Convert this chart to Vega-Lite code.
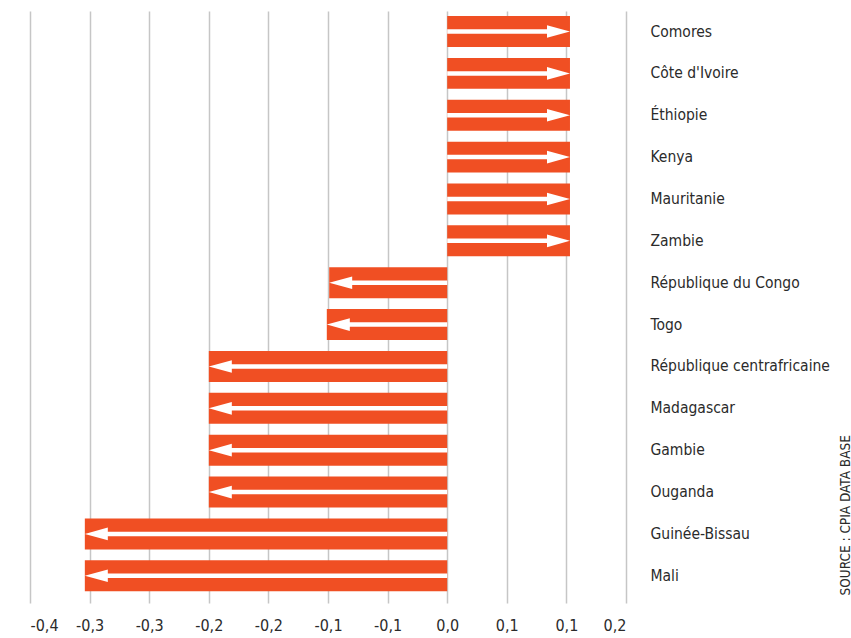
{
  "$schema": "https://vega.github.io/schema/vega-lite/v6.json",
  "width": 596,
  "height": 592,
  "autosize": {"type": "none"},
  "padding": {"left": 30, "top": 11, "right": 225, "bottom": 35},
  "background": "white",
  "config": {
    "view": {"stroke": null},
    "font": "DejaVu Sans Condensed, sans-serif"
  },
  "data": {
    "values": [
      {"pays": "Comores", "v": 0.103},
      {"pays": "Côte d'Ivoire", "v": 0.103},
      {"pays": "Éthiopie", "v": 0.103},
      {"pays": "Kenya", "v": 0.103},
      {"pays": "Mauritanie", "v": 0.103},
      {"pays": "Zambie", "v": 0.103},
      {"pays": "République du Congo", "v": -0.099},
      {"pays": "Togo", "v": -0.101},
      {"pays": "République centrafricaine", "v": -0.2},
      {"pays": "Madagascar", "v": -0.2},
      {"pays": "Gambie", "v": -0.2},
      {"pays": "Ouganda", "v": -0.2},
      {"pays": "Guinée-Bissau", "v": -0.304},
      {"pays": "Mali", "v": -0.304}
    ]
  },
  "encoding": {
    "y": {
      "field": "pays",
      "type": "nominal",
      "sort": null,
      "scale": {"paddingInner": 0.26, "paddingOuter": 0.2, "align": 0.3},
      "axis": {
        "orient": "right",
        "ticks": false,
        "domain": false,
        "labelPadding": 24,
        "labelFontSize": 15.5,
        "labelColor": "#2b2b2b",
        "labelLimit": 400,
        "title": "SOURCE : CPIA DATA BASE",
        "titleFontSize": 13.5,
        "titleFontWeight": "normal",
        "titleColor": "#2b2b2b",
        "titleAngle": 270,
        "titleAlign": "left",
        "titleBaseline": "middle",
        "titleX": 219,
        "titleY": 584
      }
    }
  },
  "layer": [
    {
      "mark": {"type": "bar", "color": "#F04F23"},
      "encoding": {
        "x": {
          "field": "v",
          "type": "quantitative",
          "scale": {"domain": [-0.35, 0.15], "nice": false, "zero": false},
          "axis": {
            "values": [-0.35, -0.3, -0.25, -0.2, -0.15, -0.1, -0.05, 0, 0.05, 0.1, 0.15],
            "title": null,
            "domain": false,
            "ticks": false,
            "tickSize": 0,
            "grid": true,
            "gridColor": "#c6c6c6",
            "gridWidth": 1.5,
            "labelFontSize": 16,
            "labelColor": "#2b2b2b",
            "labelPadding": 27,
            "labelBaseline": "alphabetic",
            "labelExpr": "(datum.value < -0.000001 ? '-' : '') + replace(format(floor(abs(datum.value)*10 + 0.5 + 0.000001)/10, '.1f'), '.', ',')"
          }
        }
      }
    },
    {
      "transform": [{"filter": "datum.v > 0"}],
      "mark": {"type": "rule", "color": "white", "strokeWidth": 4.5, "xOffset": -12},
      "encoding": {
        "x": {"field": "v", "type": "quantitative"},
        "x2": {"datum": 0}
      }
    },
    {
      "transform": [{"filter": "datum.v < 0"}],
      "mark": {"type": "rule", "color": "white", "strokeWidth": 4.5, "xOffset": 12},
      "encoding": {
        "x": {"field": "v", "type": "quantitative"},
        "x2": {"datum": 0}
      }
    },
    {
      "mark": {"type": "point", "filled": true, "color": "white", "opacity": 1, "size": 529, "strokeWidth": 0},
      "encoding": {
        "x": {"field": "v", "type": "quantitative"},
        "shape": {
          "condition": {"test": "datum.v > 0", "value": "M -2 -0.55 L 0 0 L -2 0.55 Z"},
          "value": "M 2 -0.55 L 0 0 L 2 0.55 Z"
        }
      }
    },
    {
      "mark": {"type": "rule", "color": "#3a3a3a", "strokeWidth": 2},
      "encoding": {"x": {"datum": 0}}
    }
  ]
}
